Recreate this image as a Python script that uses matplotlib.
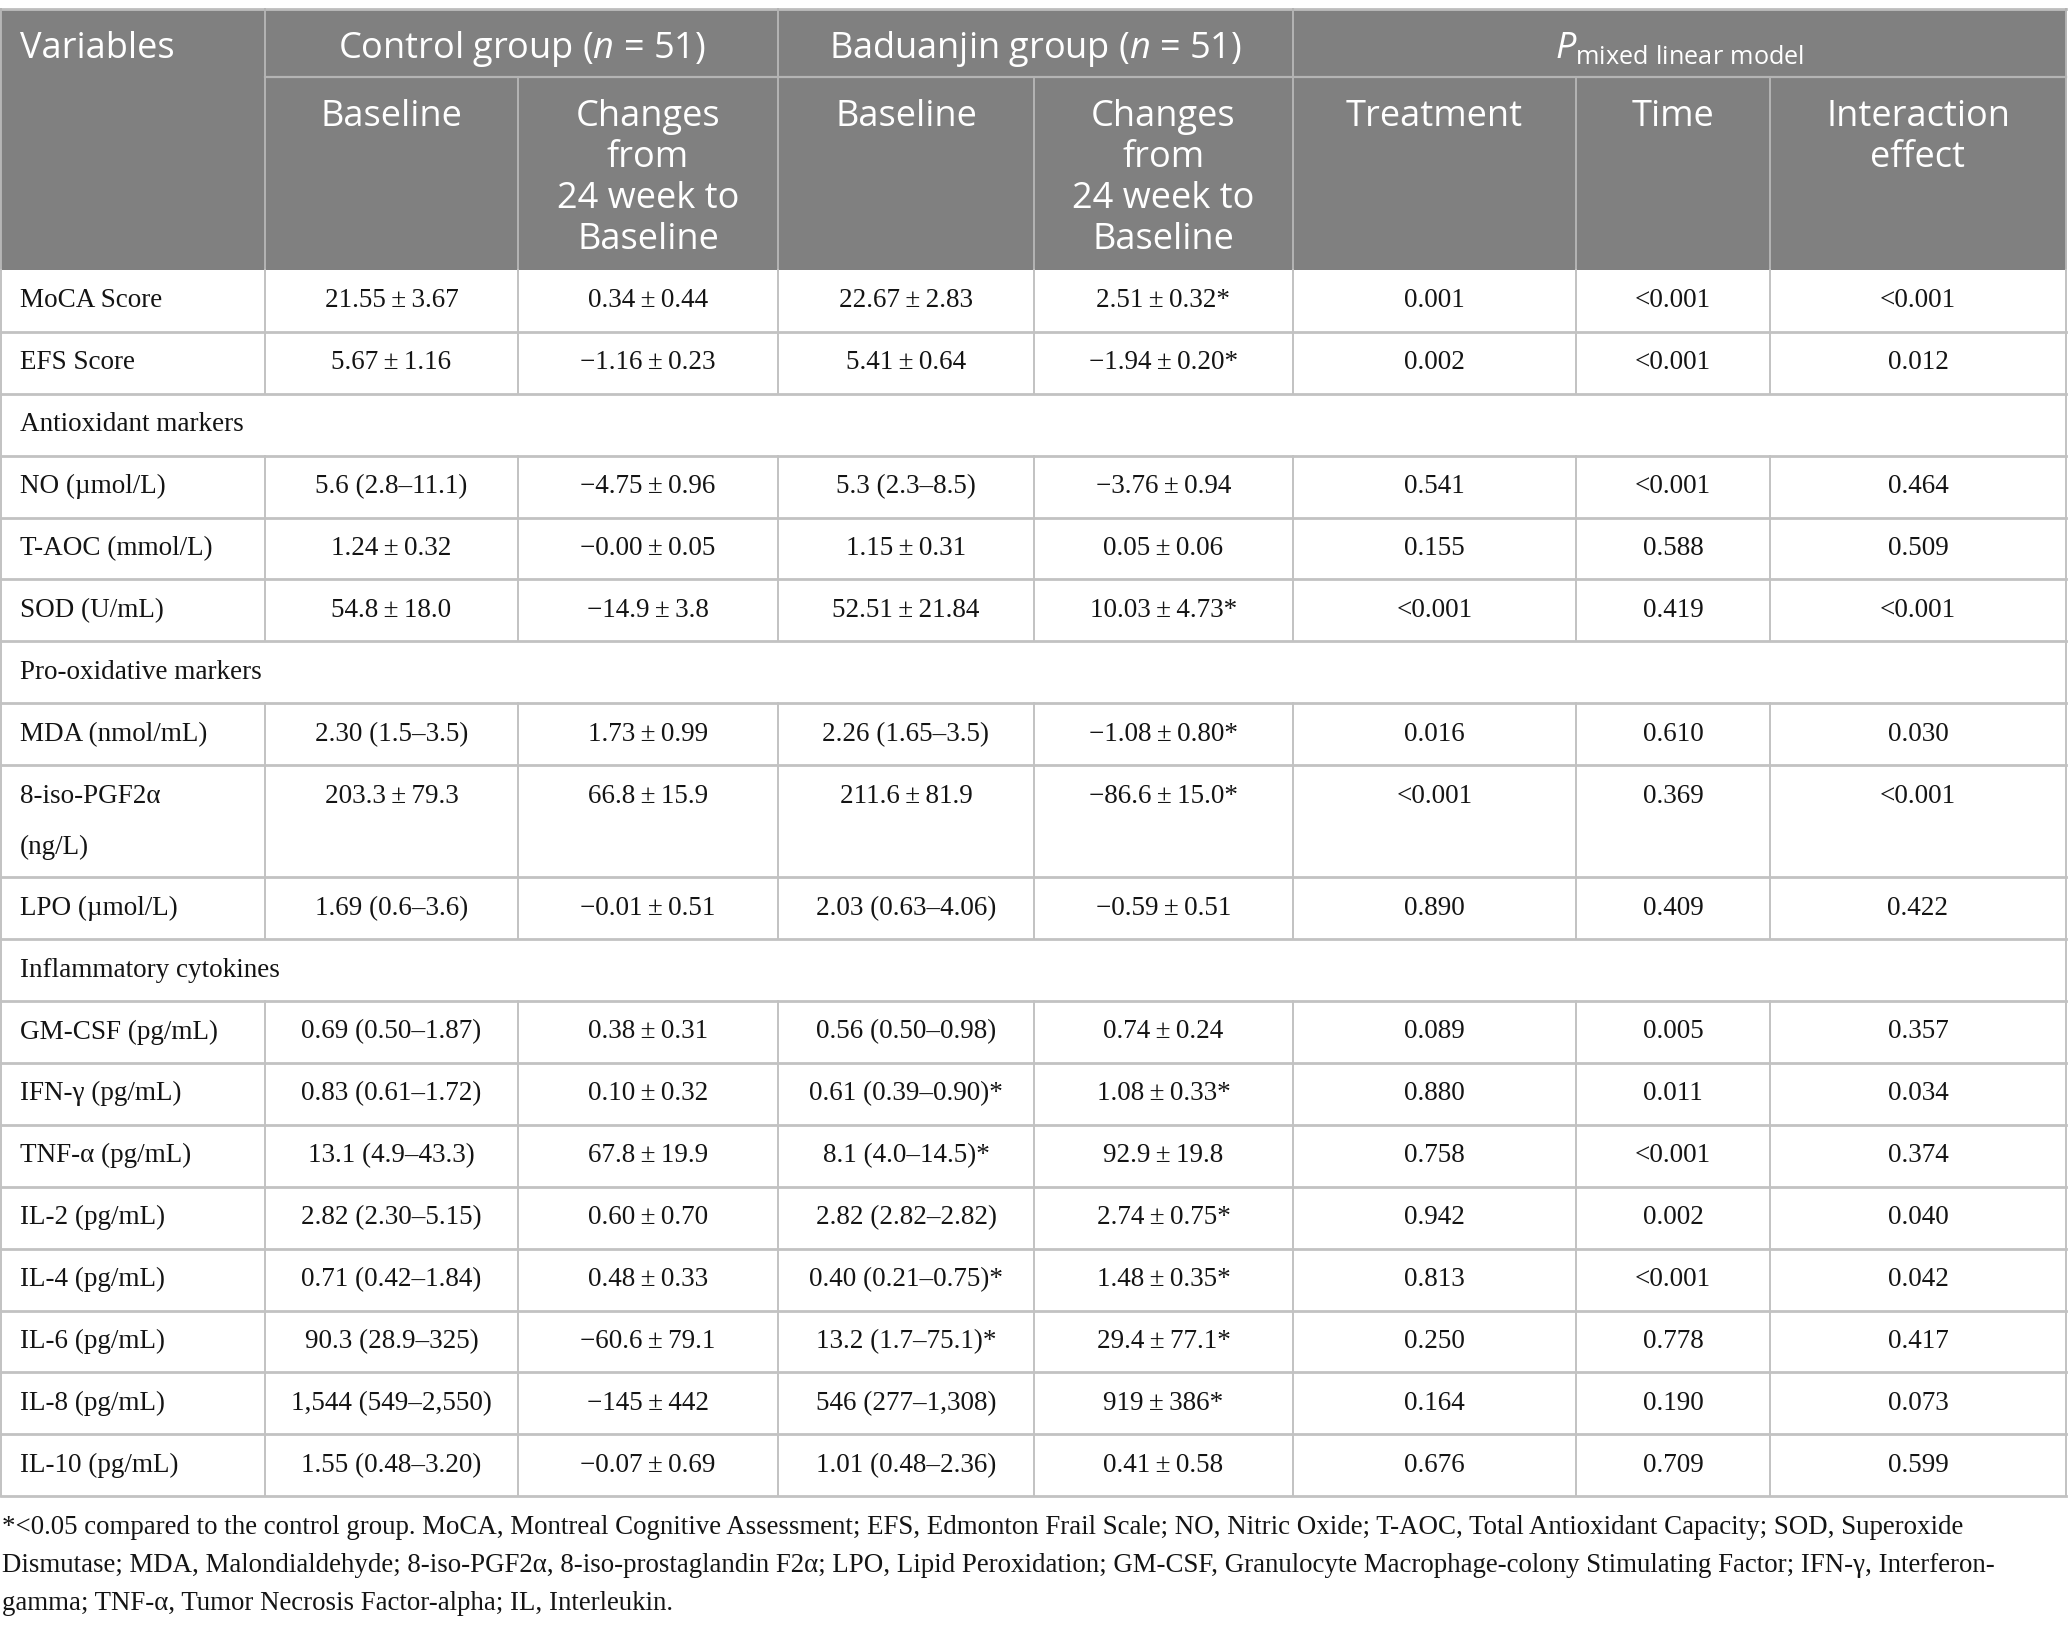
import matplotlib
matplotlib.use("Agg")
import matplotlib.pyplot as plt
from matplotlib.patches import Rectangle

plt.rcParams['mathtext.fontset'] = 'custom'
plt.rcParams['mathtext.rm'] = 'Open Sans'
plt.rcParams['mathtext.it'] = 'Open Sans:italic'

# ---------------- data ----------------
group_headers = ["Control group ($n$ = 51)", "Baduanjin group ($n$ = 51)",
                 "$P_{\\mathrm{mixed\\ linear\\ model}}$"]
sub_headers = ["Baseline", "Changes\nfrom\n24 week to\nBaseline",
               "Baseline", "Changes\nfrom\n24 week to\nBaseline",
               "Treatment", "Time", "Interaction\neffect"]

variables = ["MoCA Score", "EFS Score", "Antioxidant markers", "NO (µmol/L)",
             "T-AOC (mmol/L)", "SOD (U/mL)", "Pro-oxidative markers",
             "MDA (nmol/mL)", "8-iso-PGF2α\n(ng/L)", "LPO (µmol/L)",
             "Inflammatory cytokines", "GM-CSF (pg/mL)", "IFN-γ (pg/mL)",
             "TNF-α (pg/mL)", "IL-2 (pg/mL)", "IL-4 (pg/mL)", "IL-6 (pg/mL)",
             "IL-8 (pg/mL)", "IL-10 (pg/mL)"]
section_rows = {"Antioxidant markers", "Pro-oxidative markers", "Inflammatory cytokines"}

PM = "\u2009±\u2009"
control_baseline = ["21.55±3.67", "5.67±1.16", "", "5.6 (2.8–11.1)", "1.24±0.32",
                    "54.8±18.0", "", "2.30 (1.5–3.5)", "203.3±79.3", "1.69 (0.6–3.6)",
                    "", "0.69 (0.50–1.87)", "0.83 (0.61–1.72)", "13.1 (4.9–43.3)",
                    "2.82 (2.30–5.15)", "0.71 (0.42–1.84)", "90.3 (28.9–325)",
                    "1,544 (549–2,550)", "1.55 (0.48–3.20)"]
control_change = ["0.34±0.44", "−1.16±0.23", "", "−4.75±0.96", "−0.00±0.05",
                  "−14.9±3.8", "", "1.73±0.99", "66.8±15.9", "−0.01±0.51",
                  "", "0.38±0.31", "0.10±0.32", "67.8±19.9", "0.60±0.70",
                  "0.48±0.33", "−60.6±79.1", "−145±442", "−0.07±0.69"]
bdj_baseline = ["22.67±2.83", "5.41±0.64", "", "5.3 (2.3–8.5)", "1.15±0.31",
                "52.51±21.84", "", "2.26 (1.65–3.5)", "211.6±81.9", "2.03 (0.63–4.06)",
                "", "0.56 (0.50–0.98)", "0.61 (0.39–0.90)*", "8.1 (4.0–14.5)*",
                "2.82 (2.82–2.82)", "0.40 (0.21–0.75)*", "13.2 (1.7–75.1)*",
                "546 (277–1,308)", "1.01 (0.48–2.36)"]
bdj_change = ["2.51±0.32*", "−1.94±0.20*", "", "−3.76±0.94", "0.05±0.06",
              "10.03±4.73*", "", "−1.08±0.80*", "−86.6±15.0*", "−0.59±0.51",
              "", "0.74±0.24", "1.08±0.33*", "92.9±19.8", "2.74±0.75*",
              "1.48±0.35*", "29.4±77.1*", "919±386*", "0.41±0.58"]
p_treatment = ["0.001", "0.002", "", "0.541", "0.155", "<0.001", "", "0.016", "<0.001",
               "0.890", "", "0.089", "0.880", "0.758", "0.942", "0.813", "0.250",
               "0.164", "0.676"]
p_time = ["<0.001", "<0.001", "", "<0.001", "0.588", "0.419", "", "0.610", "0.369",
          "0.409", "", "0.005", "0.011", "<0.001", "0.002", "<0.001", "0.778",
          "0.190", "0.709"]
p_interaction = ["<0.001", "0.012", "", "0.464", "0.509", "<0.001", "", "0.030", "<0.001",
                 "0.422", "", "0.357", "0.034", "0.374", "0.040", "0.042", "0.417",
                 "0.073", "0.599"]

footnote_lines = [
    "*<0.05 compared to the control group. MoCA, Montreal Cognitive Assessment; EFS, Edmonton Frail Scale; NO, Nitric Oxide; T-AOC, Total Antioxidant Capacity; SOD, Superoxide",
    "Dismutase; MDA, Malondialdehyde; 8-iso-PGF2α, 8-iso-prostaglandin F2α; LPO, Lipid Peroxidation; GM-CSF, Granulocyte Macrophage-colony Stimulating Factor; IFN-γ, Interferon-",
    "gamma; TNF-α, Tumor Necrosis Factor-alpha; IL, Interleukin.",
]

# ---------------- layout ----------------
W, H = 2068, 1630
fig = plt.figure(figsize=(W / 100, H / 100), dpi=100)
ax = fig.add_axes([0, 0, 1, 1])
ax.set_xlim(0, W)
ax.set_ylim(H, 0)
ax.axis("off")

col_edges = [1, 265, 518, 778, 1034, 1293, 1576, 1770, 2066]
head_top, head_mid, head_bot = 9, 77, 270
row_h = 61.9
tall_h = 112

HEAD_BG = "#808080"
LINE = "#c2c2c2"
HEAD_LINE = "#b4b4b4"
TXT = "#141414"
SANS = "Open Sans"
SERIF = "Liberation Serif"
hfs = 26
bfs = 19.5


def fmt(s):
    return s.replace("±", PM)


# header background
ax.add_patch(Rectangle((col_edges[0], head_top), col_edges[-1] - col_edges[0],
                       head_bot - head_top, facecolor=HEAD_BG, edgecolor="none"))

# header lines
ax.plot([col_edges[0], col_edges[-1]], [head_top, head_top], color="#bdbdbd", lw=2)
ax.plot([col_edges[1], col_edges[-1]], [head_mid, head_mid], color=HEAD_LINE, lw=1.6)
for i, x in enumerate(col_edges):
    if i in (0, 1, 3, 5, 8):
        ax.plot([x, x], [head_top, head_bot], color=HEAD_LINE, lw=1.4)
    else:
        ax.plot([x, x], [head_mid, head_bot], color=HEAD_LINE, lw=1.4)

# header texts
ax.text(20, 49, "Variables", fontsize=hfs, family=SANS, color="white",
        ha="left", va="center")
spans = [(1, 3), (3, 5), (5, 8)]
for (a, b), t in zip(spans, group_headers):
    ax.text((col_edges[a] + col_edges[b]) / 2, 49, t, fontsize=hfs, family=SANS,
            color="white", ha="center", va="center")
for j, t in enumerate(sub_headers):
    xc = (col_edges[j + 1] + col_edges[j + 2]) / 2
    ax.text(xc, 99, t, fontsize=hfs, family=SANS, color="white", ha="center",
            va="top", linespacing=1.18)

# body
columns = [control_baseline, control_change, bdj_baseline, bdj_change,
           p_treatment, p_time, p_interaction]
y = head_bot
for i, var in enumerate(variables):
    h = tall_h if "\n" in var else row_h
    y0, y1 = y, y + h
    ax.plot([col_edges[0], col_edges[-1]], [y1, y1], color=LINE, lw=2)
    if var in section_rows:
        ax.plot([col_edges[0], col_edges[0]], [y0, y1], color=LINE, lw=1.4)
        ax.plot([col_edges[-1], col_edges[-1]], [y0, y1], color=LINE, lw=1.4)
        ax.text(20, (y0 + y1) / 2, var, fontsize=bfs, family=SERIF, color=TXT,
                ha="left", va="center")
    else:
        for x in col_edges:
            ax.plot([x, x], [y0, y1], color=LINE, lw=1.4)
        if "\n" in var:
            ty = y0 + 31
            for k, ln in enumerate(var.split("\n")):
                ax.text(20, ty + k * 51, ln, fontsize=bfs, family=SERIF,
                        color=TXT, ha="left", va="center")
        else:
            ty = (y0 + y1) / 2
            ax.text(20, ty, var, fontsize=bfs, family=SERIF, color=TXT,
                    ha="left", va="center")
        for j, col in enumerate(columns):
            xc = (col_edges[j + 1] + col_edges[j + 2]) / 2
            ax.text(xc, ty, fmt(col[i]), fontsize=bfs, family=SERIF, color=TXT,
                    ha="center", va="center")
    y = y1

# footnote
for k, ln in enumerate(footnote_lines):
    ax.text(2, 1528 + k * 37.5, ln, fontsize=19.4, family=SERIF, color=TXT,
            ha="left", va="center")

fig.savefig("out.png", dpi=100, facecolor="white")
